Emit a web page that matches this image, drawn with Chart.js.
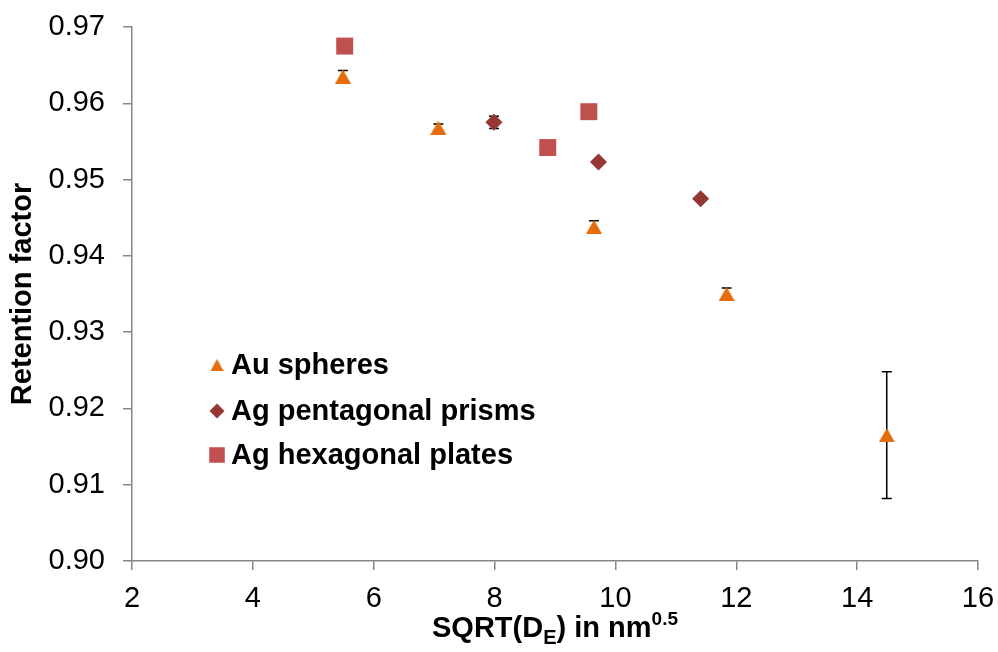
<!DOCTYPE html>
<html>
<head>
<meta charset="utf-8">
<script src="https://cdn.jsdelivr.net/npm/chart.js@4/dist/chart.umd.min.js"></script>
<style>
  html, body { margin: 0; padding: 0; background: #fff; }
  #wrap { width: 998px; height: 652px; position: relative; }
</style>
</head>
<body>
<div id="wrap"><canvas id="myChart"></canvas></div>
<script>
// values
const auX = [5.49, 7.07, 9.645, 11.84, 14.49];
const auY = [0.9635, 0.9568, 0.9438, 0.9350, 0.9165];
const auErr = [0.0008, 0.0005, 0.0008, 0.0008, 0.0083];
const agPrismX = [7.99, 9.72, 11.41];
const agPrismY = [0.9575, 0.9523, 0.9475];
const agPrismErr = [0.0008, 0, 0];
const agPlateX = [5.52, 8.88, 9.56];
const agPlateY = [0.9675, 0.9542, 0.9589];
const xTicks = [2, 4, 6, 8, 10, 12, 14, 16];
const yTicks = [0.90, 0.91, 0.92, 0.93, 0.94, 0.95, 0.96, 0.97];

const ORANGE = '#E46C0A';
const DARKRED = '#953735';
const RED = '#C0504D';
const AXIS = '#868686';
const FONT = "'Liberation Sans', Arial, sans-serif";

function pts(xs, ys) {
    return xs.map((x, i) => ({ x: x, y: ys[i] }));
}

// excel style triangle, centred on its box
function triangleImg(w, h, color) {
    const c = document.createElement('canvas');
    c.width = w; c.height = h;
    const g = c.getContext('2d');
    g.fillStyle = color;
    g.beginPath();
    g.moveTo(w / 2, 0);
    g.lineTo(w, h);
    g.lineTo(0, h);
    g.closePath();
    g.fill();
    return c;
}
const triBig = triangleImg(16, 14, ORANGE);
const triSmall = triangleImg(13, 12, ORANGE);

// error bars drawn under the markers
const errorBars = {
    id: 'errorBars',
    beforeDatasetsDraw(chart) {
        const ctx = chart.ctx;
        const xs = chart.scales.x, ys = chart.scales.y;
        ctx.save();
        ctx.strokeStyle = '#000';
        ctx.lineWidth = 1.5;
        chart.data.datasets.forEach(ds => {
            if (!ds.errors) return;
            ds.data.forEach((p, i) => {
                const e = ds.errors[i];
                if (!e) return;
                const px = xs.getPixelForValue(p.x);
                const top = ys.getPixelForValue(p.y + e);
                const bot = ys.getPixelForValue(p.y - e);
                ctx.beginPath();
                ctx.moveTo(px, top); ctx.lineTo(px, bot);
                ctx.moveTo(px - 5, top); ctx.lineTo(px + 5, top);
                ctx.moveTo(px - 5, bot); ctx.lineTo(px + 5, bot);
                ctx.stroke();
            });
        });
        ctx.restore();
    }
};

// legend inside the plot and the x title with sub/superscript
const extras = {
    id: 'extras',
    afterDraw(chart) {
        const ctx = chart.ctx;
        const area = chart.chartArea;
        ctx.save();
        // legend
        const lx = 217, ly = [365, 411, 455];
        chart.data.datasets.forEach((ds, i) => {
            ctx.fillStyle = ds.backgroundColor;
            ctx.strokeStyle = ds.backgroundColor;
            Chart.helpers.drawPoint(ctx, {
                pointStyle: ds.legendStyle || ds.pointStyle,
                radius: ds.legendRadius,
                borderWidth: 0
            }, lx, ly[i]);
            ctx.fillStyle = '#000';
            ctx.font = 'bold 29px ' + FONT;
            ctx.textBaseline = 'middle';
            ctx.textAlign = 'left';
            ctx.fillText(ds.label, 231, ly[i] + 1);
        });
        // x axis title
        const parts = [
            { t: 'SQRT(D', f: 'bold 29px ', dy: 0 },
            { t: 'E', f: 'bold 20px ', dy: 7 },
            { t: ') in nm', f: 'bold 29px ', dy: 0 },
            { t: '0.5', f: 'bold 19px ', dy: -12 }
        ];
        let total = 0;
        parts.forEach(p => {
            ctx.font = p.f + FONT;
            p.w = ctx.measureText(p.t).width;
            total += p.w;
        });
        let x = (area.left + area.right) / 2 - total / 2;
        const base = 637;
        ctx.fillStyle = '#000';
        ctx.textBaseline = 'alphabetic';
        parts.forEach(p => {
            ctx.font = p.f + FONT;
            ctx.fillText(p.t, x, base + p.dy);
            x += p.w;
        });
        ctx.restore();
    }
};

const ctx = document.getElementById('myChart').getContext('2d');
const myChart = new Chart(ctx, {
    type: 'scatter',
    data: {
        datasets: [{
            label: 'Au spheres',
            data: pts(auX, auY),
            errors: auErr,
            pointStyle: triBig,
            legendStyle: triSmall,
            pointRadius: 9,
            legendRadius: 7,
            backgroundColor: ORANGE,
            borderColor: ORANGE,
            borderWidth: 0
        }, {
            label: 'Ag pentagonal prisms',
            data: pts(agPrismX, agPrismY),
            errors: agPrismErr,
            pointStyle: 'rectRot',
            pointRadius: 8.5,
            legendRadius: 7.5,
            backgroundColor: DARKRED,
            borderColor: DARKRED,
            borderWidth: 0
        }, {
            label: 'Ag hexagonal plates',
            data: pts(agPlateX, agPlateY),
            pointStyle: 'rect',
            pointRadius: 12,
            legendRadius: 11,
            backgroundColor: RED,
            borderColor: RED,
            borderWidth: 0
        }]
    },
    options: {
        responsive: true,
        maintainAspectRatio: false,
        animation: false,
        layout: { padding: { left: 0, top: 27, right: 20, bottom: 0 } },
        plugins: {
            legend: { display: false },
            tooltip: { enabled: false }
        },
        scales: {
            x: {
                type: 'linear',
                min: 2,
                max: 16,
                afterBuildTicks: s => { s.ticks = xTicks.map(v => ({ value: v })); },
                afterFit: s => {
                    s.height = 91;
                    s.paddingLeft = 0;
                    s.paddingRight = 0;
                },
                grid: { drawOnChartArea: false, drawTicks: true, tickLength: 9, color: AXIS, lineWidth: 1.5 },
                border: { color: AXIS, width: 1.5 },
                ticks: {
                    color: '#000',
                    padding: 12,
                    font: { family: FONT, size: 29 },
                    callback: v => String(v)
                }
            },
            y: {
                type: 'linear',
                min: 0.90,
                max: 0.97,
                afterBuildTicks: s => { s.ticks = yTicks.map(v => ({ value: v })); },
                afterFit: s => {
                    s.width = 132;
                    s.paddingTop = 0;
                    s.paddingBottom = 0;
                },
                grid: { drawOnChartArea: false, drawTicks: true, tickLength: 9, color: AXIS, lineWidth: 1.5 },
                border: { color: AXIS, width: 1.5 },
                title: {
                    display: true,
                    text: 'Retention factor',
                    color: '#000',
                    padding: { top: 6, bottom: 0 },
                    font: { family: FONT, size: 29, weight: 'bold' }
                },
                ticks: {
                    color: '#000',
                    padding: 18,
                    font: { family: FONT, size: 29 },
                    callback: v => v.toFixed(2)
                }
            }
        }
    },
    plugins: [errorBars, extras]
});
</script>
</body>
</html>
